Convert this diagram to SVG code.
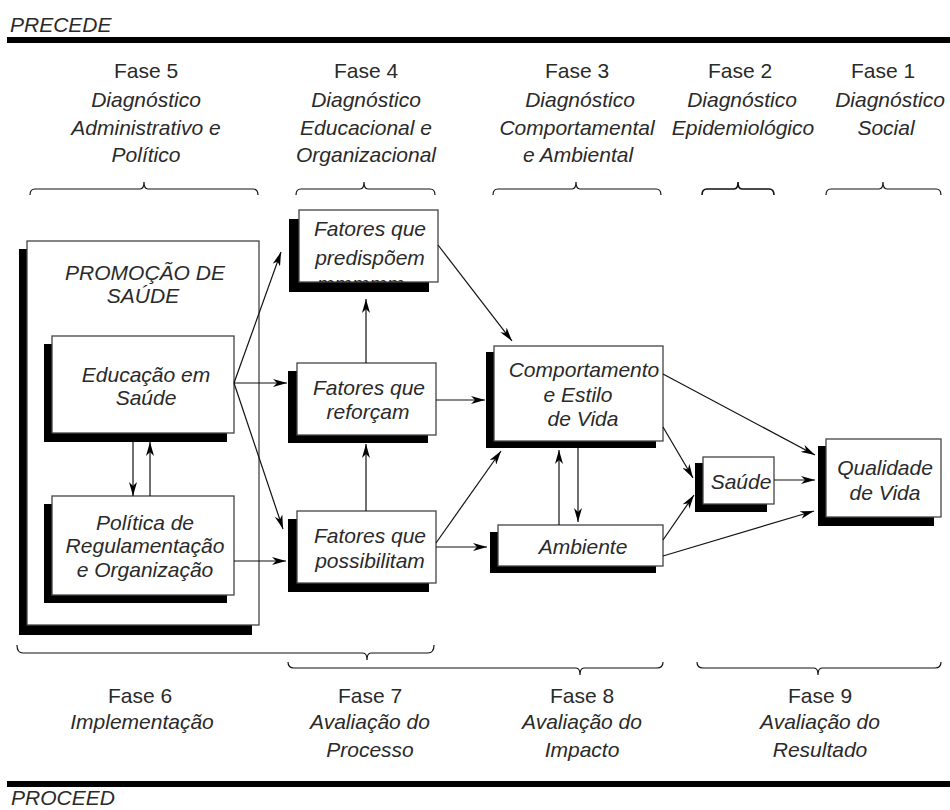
<svg xmlns="http://www.w3.org/2000/svg" width="950" height="810" viewBox="0 0 950 810">
<defs>
<style>
text{font-family:"Liberation Sans",Arial,sans-serif;font-size:21px;fill:#2a2a2a;text-anchor:middle}
.i{font-style:italic}
.l{text-anchor:start}
.bar{fill:#000}
.brace{fill:none;stroke:#111;stroke-width:1.2}
.box{fill:#fff;stroke:#444;stroke-width:1.3}
.sh{fill:#000}
.ar{stroke:#111;stroke-width:1.2;fill:none;marker-end:url(#ah)}
</style>
<marker id="ah" viewBox="0 0 14 8" markerWidth="14" markerHeight="8" refX="14" refY="4" orient="auto" markerUnits="userSpaceOnUse">
<path d="M0,0 L14,4 L0,8 L4,4 Z" fill="#000"/>
</marker>
<clipPath id="cpPred"><rect x="299" y="210" width="139" height="72"/></clipPath>
</defs>
<rect width="950" height="810" fill="#fff"/>

<g id="header">
<text class="i l" x="10" y="32">PRECEDE</text>
<rect class="bar" x="7" y="37" width="943" height="6"/>
</g>

<g id="phases-top">
<text x="146" y="78">Fase 5</text>
<text class="i" x="146" y="107">Diagnóstico</text>
<text class="i" x="146" y="135">Administrativo e</text>
<text class="i" x="146" y="162">Político</text>
<text x="366" y="78">Fase 4</text>
<text class="i" x="366" y="107">Diagnóstico</text>
<text class="i" x="366" y="135">Educacional e</text>
<text class="i" x="366" y="162">Organizacional</text>
<text x="577" y="78">Fase 3</text>
<text class="i" x="580" y="107">Diagnóstico</text>
<text class="i" x="577" y="135">Comportamental</text>
<text class="i" x="578" y="162">e Ambiental</text>
<text x="740" y="78">Fase 2</text>
<text class="i" x="742" y="107">Diagnóstico</text>
<text class="i" x="743" y="135">Epidemiológico</text>
<text x="883" y="78">Fase 1</text>
<text class="i" x="890" y="107">Diagnóstico</text>
<text class="i" x="886" y="135">Social</text>
</g>

<g id="braces">
<path class="brace" d="M30,195 Q30,189 35,189 L140,189 Q144,189 144,182 Q144,189 148,189 L253,189 Q258,189 258,195"/>
<path class="brace" d="M296,195 Q296,189 301,189 L360,189 Q364,189 364,182 Q364,189 368,189 L430,189 Q435,189 435,195"/>
<path class="brace" d="M493,195 Q493,189 498,189 L572,189 Q576,189 576,182 Q576,189 580,189 L656,189 Q661,189 661,195"/>
<path class="brace" d="M702,195 Q702,189 707,189 L734,189 Q738,189 738,182 Q738,189 742,189 L769,189 Q774,189 774,195" style="stroke-width:1.6"/>
<path class="brace" d="M826,195 Q826,189 831,189 L879,189 Q883,189 883,182 Q883,189 887,189 L936,189 Q941,189 941,195"/>
<path class="brace" d="M17,645 Q17,653 23,653 L363,653 Q367,653 367,660 Q367,653 371,653 L428,653 Q434,653 434,645"/>
<path class="brace" d="M288,662 Q288,668 294,668 L576,668 Q580,668 580,675 Q580,668 584,668 L657,668 Q663,668 663,662"/>
<path class="brace" d="M697,662 Q697,668 703,668 L814,668 Q818,668 818,675 Q818,668 822,668 L935,668 Q941,668 941,662"/>
</g>

<g id="phases-bottom">
<text x="140" y="703">Fase 6</text>
<text class="i" x="142" y="729">Implementação</text>
<text x="370" y="703">Fase 7</text>
<text class="i" x="370" y="729">Avaliação do</text>
<text class="i" x="370" y="757">Processo</text>
<text x="582" y="703">Fase 8</text>
<text class="i" x="582" y="729">Avaliação do</text>
<text class="i" x="582" y="757">Impacto</text>
<text x="820" y="703">Fase 9</text>
<text class="i" x="820" y="729">Avaliação do</text>
<text class="i" x="820" y="757">Resultado</text>
</g>

<g id="footer">
<rect class="bar" x="7" y="781" width="943" height="6"/>
<text class="i l" x="11" y="805">PROCEED</text>
</g>

<g id="promocao">
<rect class="sh" x="19" y="249" width="233" height="386"/>
<rect class="box" x="27" y="241" width="232" height="384"/>
<text class="i" x="145" y="280">PROMOÇÃO DE</text>
<text class="i" x="143" y="303">SAÚDE</text>
</g>

<g id="educacao">
<rect class="sh" x="44" y="344" width="183" height="98"/>
<rect class="box" x="52" y="336" width="182" height="97"/>
<text class="i" x="146" y="382">Educação em</text>
<text class="i" x="146" y="405">Saúde</text>
</g>

<g id="politica">
<rect class="sh" x="44" y="504" width="183" height="99"/>
<rect class="box" x="52" y="496" width="182" height="99"/>
<text class="i" x="145" y="530">Política de</text>
<text class="i" x="145" y="553">Regulamentação</text>
<text class="i" x="145" y="577">e Organização</text>
</g>

<g id="predispoem">
<rect class="sh" x="289" y="219" width="140" height="73"/>
<rect class="box" x="299" y="210" width="139" height="72"/>
<text class="i" x="370" y="236">Fatores que</text>
<text class="i" x="370" y="265">predispõem</text>
<text class="i l" x="317" y="291" clip-path="url(#cpPred)">mmmmm</text>
</g>

<g id="reforcam">
<rect class="sh" x="288" y="371" width="140" height="72"/>
<rect class="box" x="297" y="363" width="139" height="72"/>
<text class="i" x="369" y="395">Fatores que</text>
<text class="i" x="368" y="419">reforçam</text>
</g>

<g id="possibilitam">
<rect class="sh" x="288" y="519" width="141" height="73"/>
<rect class="box" x="297" y="511" width="139" height="72"/>
<text class="i" x="370" y="543">Fatores que</text>
<text class="i" x="370" y="568">possibilitam</text>
</g>

<g id="comportamento">
<rect class="sh" x="486" y="352" width="170" height="96"/>
<rect class="box" x="494" y="346" width="169" height="95"/>
<text class="i" x="584" y="377">Comportamento</text>
<text class="i" x="578" y="402">e Estilo</text>
<text class="i" x="583" y="426">de Vida</text>
</g>

<g id="ambiente">
<rect class="sh" x="490" y="532" width="166" height="41"/>
<rect class="box" x="498" y="525" width="165" height="41"/>
<text class="i" x="583" y="554">Ambiente</text>
</g>

<g id="saude">
<rect class="sh" x="695" y="463" width="72" height="49"/>
<rect class="box" x="703" y="457" width="71" height="47"/>
<text class="i" x="741" y="489">Saúde</text>
</g>

<g id="qualidade">
<rect class="sh" x="818" y="446" width="116" height="80"/>
<rect class="box" x="826" y="439" width="115" height="78"/>
<text class="i" x="885" y="475">Qualidade</text>
<text class="i" x="885" y="500">de Vida</text>
</g>

<g id="connectors">
<line class="ar" x1="234" y1="383" x2="281" y2="252"/>
<line class="ar" x1="234" y1="383" x2="287" y2="383"/>
<line class="ar" x1="234" y1="383" x2="283" y2="529"/>
<line class="ar" x1="234" y1="561" x2="286" y2="561"/>
<line class="ar" x1="133" y1="442" x2="133" y2="496"/>
<line class="ar" x1="150" y1="496" x2="150" y2="442"/>
<line class="ar" x1="366" y1="511" x2="366" y2="444"/>
<line class="ar" x1="366" y1="363" x2="366" y2="299"/>
<line class="ar" x1="438" y1="245" x2="512" y2="341"/>
<line class="ar" x1="436" y1="400" x2="485" y2="400"/>
<line class="ar" x1="436" y1="543" x2="501" y2="451"/>
<line class="ar" x1="436" y1="547" x2="487" y2="547"/>
<line class="ar" x1="559" y1="525" x2="559" y2="450"/>
<line class="ar" x1="578" y1="448" x2="578" y2="522"/>
<line class="ar" x1="663" y1="374" x2="815" y2="455"/>
<line class="ar" x1="663" y1="427" x2="693" y2="478"/>
<line class="ar" x1="663" y1="540" x2="694" y2="495"/>
<line class="ar" x1="663" y1="556" x2="814" y2="511"/>
<line class="ar" x1="774" y1="480" x2="815" y2="480"/>
</g>
</svg>
